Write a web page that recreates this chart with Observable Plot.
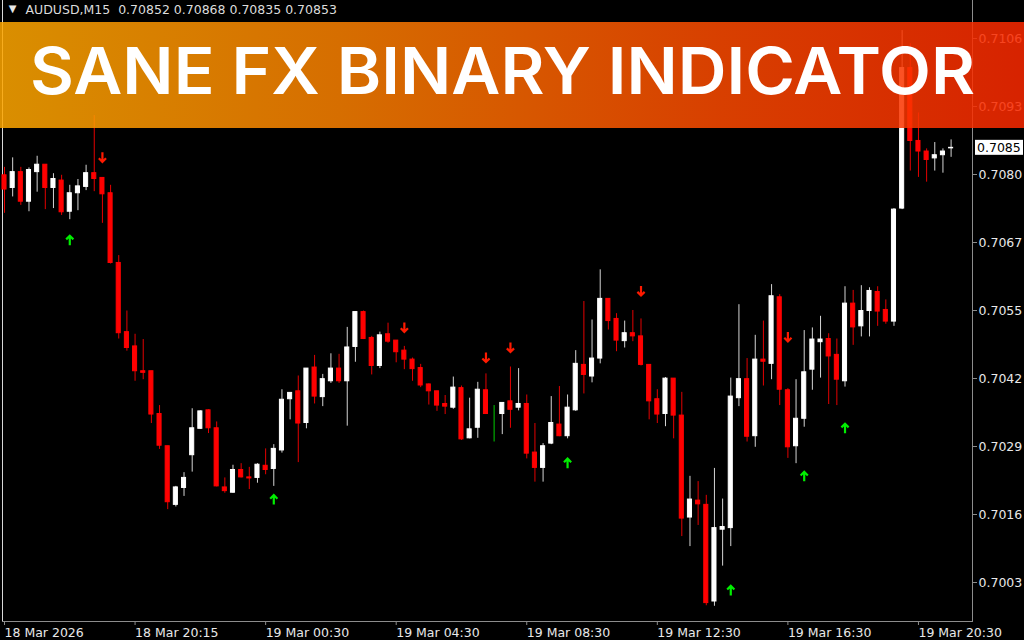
<!DOCTYPE html>
<html><head><meta charset="utf-8">
<script src="https://cdn.jsdelivr.net/npm/d3@7"></script>
<script src="https://cdn.jsdelivr.net/npm/@observablehq/plot@0.6"></script>
<style>
html,body{margin:0;padding:0;background:#000;width:1024px;height:640px;overflow:hidden;}
#wrap{position:relative;width:1024px;height:640px;}
#wrap svg{display:block;}
#banner{position:absolute;left:0;top:22px;width:1024px;height:106px;opacity:0.86;
 background:linear-gradient(90deg,#fda600 0%,#f98000 33%,#fb4a00 70%,#fa2800 100%);}
#title{position:absolute;left:0;top:22px;width:1024px;height:106px;}
</style></head><body>
<div id="wrap"></div>
<script>
// ---------- data ----------
const symbolName = "AUDUSD";
const timeframe = "M15";
const opens = [0.70801,0.70777,0.70807,0.70751,0.70807,0.70821,0.70777,0.70791,0.70732,0.70767,
0.70779,0.70805,0.70796,0.70767,0.70635,0.70504,0.70477,0.70430,0.70430,0.70349,
0.70288,0.70177,0.70209,0.70271,0.70321,0.70356,0.70322,0.70210,0.70200,0.70243,
0.70229,0.70228,0.70251,0.70245,0.70280,0.70377,0.70392,0.70332,0.70437,0.70381,
0.70411,0.70435,0.70411,0.70476,0.70542,0.70493,0.70440,0.70500,0.70488,0.70469,
0.70452,0.70436,0.70405,0.70392,0.70368,0.70361,0.70398,0.70303,0.70323,0.70394,
0.70349,0.70349,0.70373,0.70361,0.70368,0.70276,0.70247,0.70293,0.70329,0.70307,
0.70356,0.70442,0.70420,0.70454,0.70567,0.70529,0.70487,0.70502,0.70496,0.70442,
0.70377,0.70349,0.70416,0.70346,0.70153,0.70185,0.70177,0.69994,0.70130,0.70133,
0.70379,0.70415,0.70307,0.70452,0.70444,0.70570,0.70394,0.70288,0.70340,0.70433,
0.70485,0.70491,0.70461,0.70411,0.70558,0.70515,0.70544,0.70580,0.70546,0.70524,
0.70738,0.71004,0.70866,0.70846,0.70833,0.70839,0.70852];
const highs = [0.70816,0.70834,0.70816,0.70815,0.70837,0.70821,0.70804,0.70801,0.70782,0.70793,
0.70820,0.70914,0.70796,0.70782,0.70649,0.70544,0.70500,0.70490,0.70430,0.70365,
0.70288,0.70212,0.70238,0.70359,0.70355,0.70357,0.70334,0.70228,0.70252,0.70255,
0.70248,0.70255,0.70283,0.70291,0.70395,0.70389,0.70421,0.70435,0.70460,0.70424,
0.70463,0.70462,0.70513,0.70542,0.70544,0.70496,0.70504,0.70521,0.70488,0.70477,
0.70455,0.70443,0.70406,0.70392,0.70384,0.70419,0.70402,0.70379,0.70409,0.70425,
0.70365,0.70370,0.70438,0.70435,0.70385,0.70331,0.70293,0.70382,0.70401,0.70385,
0.70469,0.70562,0.70527,0.70622,0.70567,0.70539,0.70525,0.70545,0.70529,0.70442,
0.70395,0.70418,0.70416,0.70390,0.70231,0.70221,0.70195,0.70246,0.70188,0.70417,
0.70556,0.70454,0.70498,0.70525,0.70594,0.70575,0.70397,0.70414,0.70507,0.70512,
0.70534,0.70501,0.70491,0.70590,0.70583,0.70592,0.70588,0.70590,0.70565,0.70738,
0.71075,0.71050,0.70919,0.70851,0.70863,0.70851,0.70868];
const lows = [0.70729,0.70760,0.70744,0.70732,0.70769,0.70736,0.70738,0.70725,0.70717,0.70734,
0.70772,0.70770,0.70710,0.70633,0.70491,0.70468,0.70411,0.70414,0.70331,0.70282,
0.70168,0.70173,0.70193,0.70239,0.70320,0.70312,0.70211,0.70199,0.70199,0.70228,
0.70206,0.70218,0.70234,0.70212,0.70275,0.70338,0.70257,0.70321,0.70368,0.70363,
0.70407,0.70407,0.70326,0.70447,0.70490,0.70423,0.70435,0.70483,0.70446,0.70433,
0.70411,0.70399,0.70366,0.70354,0.70348,0.70358,0.70299,0.70302,0.70303,0.70348,
0.70296,0.70310,0.70322,0.70355,0.70264,0.70220,0.70220,0.70291,0.70306,0.70302,
0.70354,0.70387,0.70408,0.70444,0.70508,0.70467,0.70474,0.70486,0.70440,0.70338,
0.70331,0.70325,0.70302,0.70117,0.70098,0.70138,0.69986,0.69985,0.70061,0.70098,
0.70363,0.70296,0.70286,0.70402,0.70414,0.70365,0.70265,0.70255,0.70324,0.70394,
0.70417,0.70367,0.70365,0.70400,0.70479,0.70495,0.70495,0.70515,0.70519,0.70515,
0.70736,0.70809,0.70797,0.70788,0.70809,0.70805,0.70835];
const closes = [0.70774,0.70807,0.70751,0.70811,0.70821,0.70777,0.70794,0.70731,0.70767,0.70780,
0.70805,0.70794,0.70765,0.70635,0.70502,0.70474,0.70430,0.70427,0.70348,0.70289,
0.70182,0.70210,0.70228,0.70322,0.70354,0.70322,0.70212,0.70203,0.70243,0.70229,
0.70227,0.70253,0.70243,0.70283,0.70376,0.70389,0.70331,0.70435,0.70382,0.70415,
0.70435,0.70411,0.70475,0.70542,0.70491,0.70440,0.70498,0.70486,0.70466,0.70452,
0.70434,0.70403,0.70392,0.70365,0.70363,0.70399,0.70301,0.70320,0.70395,0.70349,
0.70349,0.70370,0.70357,0.70368,0.70274,0.70247,0.70288,0.70332,0.70307,0.70361,
0.70444,0.70423,0.70454,0.70567,0.70525,0.70488,0.70502,0.70496,0.70442,0.70373,
0.70348,0.70416,0.70346,0.70151,0.70187,0.70178,0.69991,0.70133,0.70135,0.70382,
0.70415,0.70306,0.70452,0.70448,0.70572,0.70395,0.70286,0.70340,0.70428,0.70490,
0.70490,0.70458,0.70414,0.70558,0.70513,0.70544,0.70582,0.70543,0.70524,0.70736,
0.71004,0.70866,0.70846,0.70830,0.70839,0.70846,0.70853];
const upIdx = [8,33,69,89,98,103];
const upPrice = [0.70678,0.70187,0.70256,0.70015,0.70231,0.70322];
const downIdx = [12,49,59,62,78,96];
const downPrice = [0.70835,0.70513,0.70456,0.70475,0.70582,0.70495];
const yTicks = [0.7003,0.7015875,0.702875,0.7041625,0.70545,0.7067375,0.708025,0.7093125,0.7106];
const yLabels = ["0.7003","0.7016","0.7029","0.7042","0.7055","0.7067","0.7080","0.7093","0.7106"];
const xTicks = [0,16,32,48,64,80,96,112];
const xLabels = ["18 Mar 2026","18 Mar 20:15","19 Mar 00:30","19 Mar 04:30","19 Mar 08:30","19 Mar 12:30","19 Mar 16:30","19 Mar 20:30"];
const titleText = "SANE FX BINARY INDICATOR";

// ---------- build ----------
const candles = opens.map((o, i) => ({i, o, h: highs[i], l: lows[i], c: closes[i]}));
const last = candles[candles.length - 1];
const bodyColor = d => d.c > d.o ? "#ffffff" : d.c < d.o ? "#ff0000" : "#00cc00";
const wickColor = d => d.c > d.o ? "#d4d4d4" : d.c < d.o ? "#e40000" : "#00cc00";
const ups = upIdx.map((i, k) => ({i, p: upPrice[k]}));
const downs = downIdx.map((i, k) => ({i, p: downPrice[k]}));
// dir = 1: arrow pointing up (screen y grows downward)
function arrow(dir) {
  return {draw(ctx, size) {
    const s = Math.sqrt(size / Math.PI) / 5, k = dir;
    ctx.moveTo(-3.6 * s, -0.9 * k * s);
    ctx.lineTo(0, -4.5 * k * s);
    ctx.lineTo(3.6 * s, -0.9 * k * s);
    ctx.moveTo(0, -4.5 * k * s);
    ctx.lineTo(0, 5 * k * s);
  }};
}
const header = `${symbolName},${timeframe}  ${[last.o, last.h, last.l, last.c].map(v => v.toFixed(5)).join(" ")}`;
const fmtY = d => yLabels[yTicks.indexOf(d)];
const fmtX = d => xLabels[xTicks.indexOf(d)];

const chart = Plot.plot({
  width: 1024, height: 640,
  marginLeft: 2, marginRight: 52, marginTop: 0, marginBottom: 19,
  style: {background: "#000", color: "#e8e8e8", fontFamily: "DejaVu Sans", fontSize: "12.5px", overflow: "visible"},
  x: {type: "linear", domain: [0, 116], range: [4, 950.6]},
  y: {type: "linear", domain: [0.7003, 0.7106], range: [582, 38]},
  marks: [
    Plot.frame({anchor: "left", stroke: "#d8d8d8"}),
    Plot.frame({anchor: "right", stroke: "#8c8c8c"}),
    Plot.frame({anchor: "bottom", stroke: "#8c8c8c"}),
    Plot.axisY({anchor: "right", ticks: yTicks, tickFormat: fmtY, tickSize: 4, tickPadding: 2, label: null, stroke: "#8c8c8c", fill: "#e8e8e8", fontSize: 12.5}),
    Plot.axisX({anchor: "bottom", ticks: xTicks, tickFormat: fmtX, tickSize: 4, tickPadding: 3, label: null, textAnchor: "start", stroke: "#8c8c8c", fill: "#e8e8e8", fontSize: 12.5}),
    Plot.ruleX(candles, {x: "i", y1: "l", y2: "h", stroke: wickColor, strokeWidth: 1}),
    Plot.rect(candles, {x1: d => d.i - 0.25, x2: d => d.i + 0.25, y1: "o", y2: "c", fill: bodyColor, stroke: bodyColor, strokeWidth: 1}),
    Plot.dot(ups, {x: "i", y: "p", symbol: arrow(1), r: 5, fill: "none", stroke: "#00ee00", strokeWidth: 2.2, strokeLinejoin: "miter"}),
    Plot.dot(downs, {x: "i", y: "p", symbol: arrow(-1), r: 5, fill: "none", stroke: "#ff1a00", strokeWidth: 2.2, strokeLinejoin: "miter"}),
    Plot.text(["▼"], {text: d => d, frameAnchor: "top-left", dx: 10, dy: 8.5, textAnchor: "middle", lineAnchor: "middle", fill: "#e8e8e8", fontSize: 10}),
    Plot.text([header], {text: d => d, frameAnchor: "top-left", dx: 23, dy: 9, textAnchor: "start", lineAnchor: "middle", fill: "#dcdcdc", fontSize: 12.5})
  ]
});
document.getElementById("wrap").appendChild(chart);

// current price box on the right axis
const yc = chart.scale("y").apply(last.c);
const svg = d3.select(chart);
svg.append("rect").attr("x", 975).attr("y", yc - 7.5).attr("width", 48).attr("height", 15).attr("fill", "#ffffff");
svg.append("text").attr("x", 977).attr("y", yc).attr("dy", "0.36em").attr("text-anchor", "start")
  .attr("fill", "#000").attr("font-size", 12.5).attr("font-family", "DejaVu Sans")
  .text(last.c.toFixed(4));

// banner overlay
const wrap = d3.select("#wrap");
wrap.append("div").attr("id", "banner");
const t = wrap.append("svg").attr("id", "title").attr("width", 1024).attr("height", 106);
t.append("text").attr("x", 30).attr("y", 72).attr("textLength", 945).attr("lengthAdjust", "spacingAndGlyphs")
  .attr("font-family", "Inter, 'Open Sans', sans-serif").attr("font-weight", 600).attr("font-size", 64)
  .attr("fill", "#ffffff").text(titleText);
</script>
</body></html>
